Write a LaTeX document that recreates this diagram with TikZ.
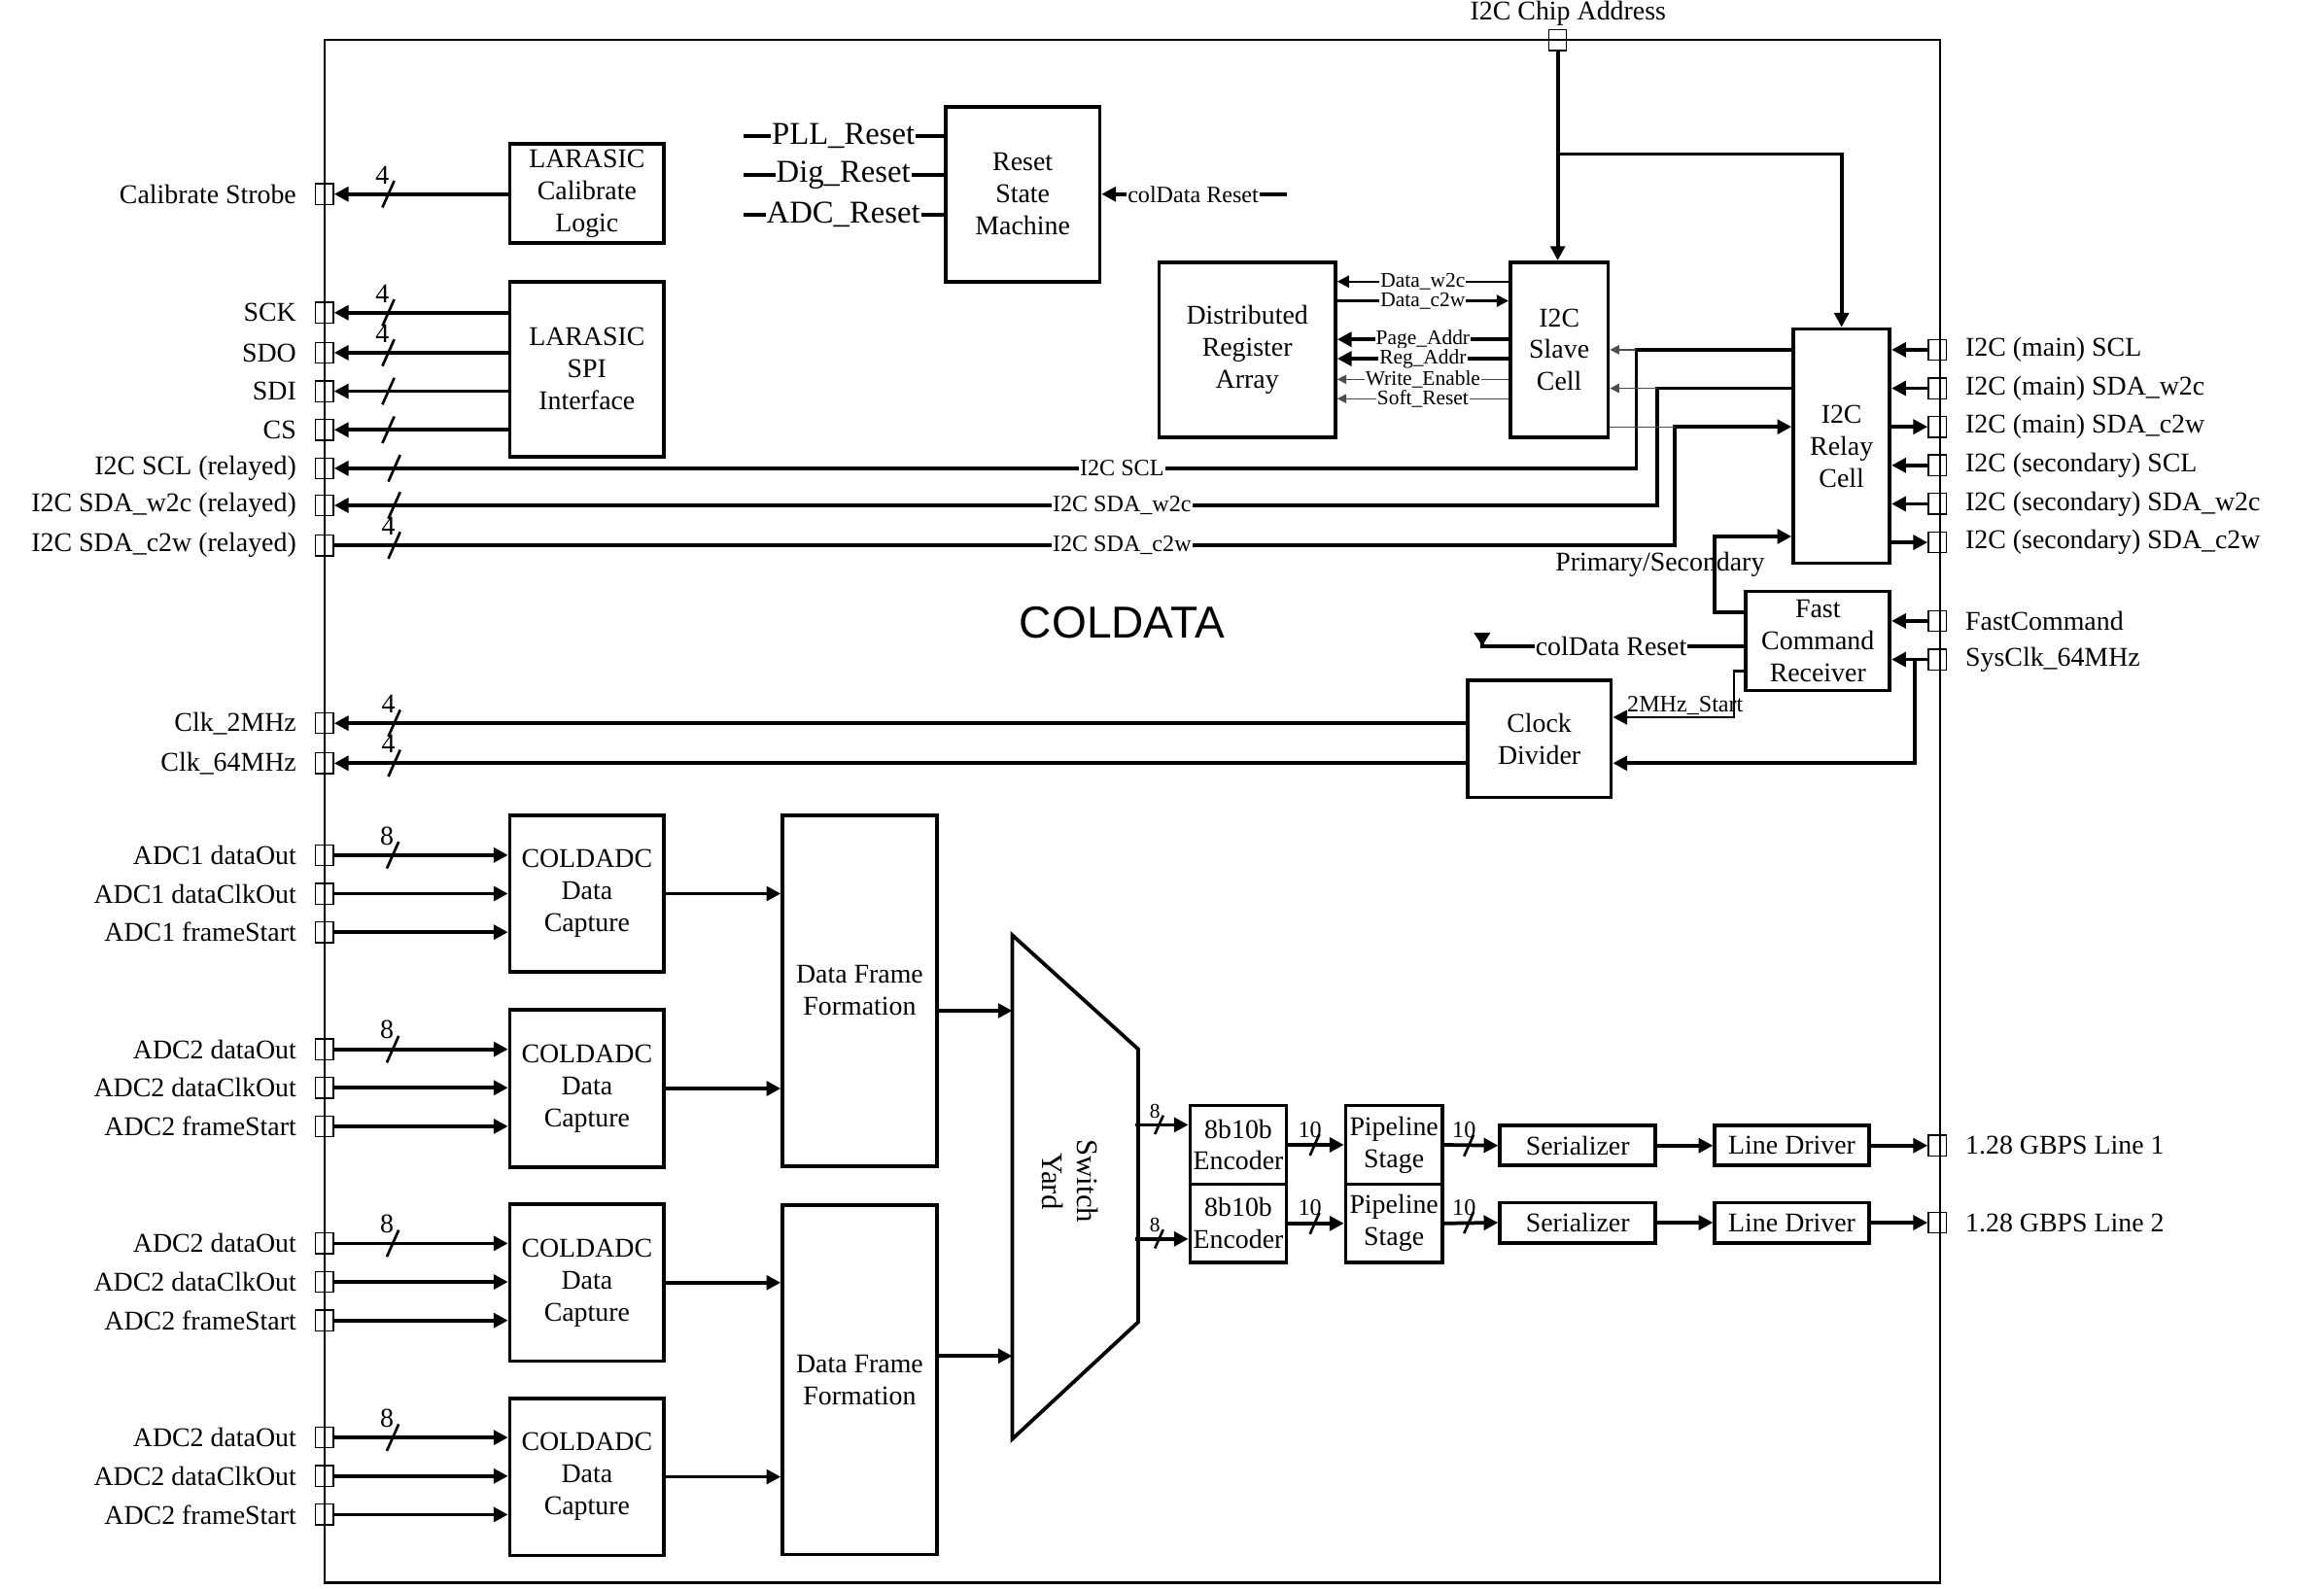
\documentclass[tikz,border=0pt]{standalone}
\usepackage{fontspec}
\setmainfont{Liberation Serif}
\newfontfamily\sansf{Liberation Sans}
\usetikzlibrary{arrows.meta}
\newcommand\smallf{\fontsize{8}{9}\selectfont}
\newcommand\midf{\fontsize{9}{10.5}\selectfont}
\newcommand\bigf{\fontsize{12.2}{14}\selectfont}

\begin{document}
\begin{tikzpicture}[x=0.02cm,y=-0.02cm,font=\fontsize{10.4}{12.3}\selectfont,
    >={Triangle[length=5.5pt,width=5.5pt]},
    blk/.style 2 args={draw,line width=1.4pt,align=center,inner sep=0pt,
      minimum width=#1*0.02cm,minimum height=#2*0.02cm},
    iopad/.style={draw,line width=.5pt,inner sep=0pt,minimum width=.24cm,minimum height=.28cm},
    wire/.style={line width=1.4pt},
    mwire/.style={line width=.9pt,>={Triangle[length=4.5pt,width=4.5pt]}},
    fwire/.style={line width=.5pt,draw=black!70,>={Triangle[length=3.5pt,width=3.5pt]}},
    onwire/.style={fill=white,inner sep=.4pt},
    pics/bus/.style={code={\draw[line width=1pt] (-4,9) -- (4,-9); \node (-n) at (-4,-13) {#1};}}]
  \useasboundingbox (0,0) rectangle (1568,1072);
  \draw[line width=.9pt] (219,27) rectangle (1309,1068);
  \node[font=\sansf\fontsize{17.2}{20}\selectfont] (title) at (757,420) {COLDATA};

  % blocks
  \node[blk={104}{67}] (cal) at (396,130.5) {LARASIC\\Calibrate\\Logic};
  \node[blk={104}{118}] (spi) at (396,249) {LARASIC\\SPI\\Interface};
  \node[blk={104}{118}] (rsm) at (690,131) {Reset\\State\\Machine};
  \node[blk={119}{118}] (dra) at (841.5,236) {Distributed\\Register\\Array};
  \node[blk={66}{118}] (slave) at (1052,236) {I2C\\Slave\\Cell};
  \node[blk={65}{158}] (relay) at (1242.5,301) {I2C\\Relay\\Cell};
  \node[blk={97}{67}] (fcr) at (1226.5,432.5) {Fast\\Command\\Receiver};
  \node[blk={97}{79}] (cd) at (1038.5,498.5) {Clock\\Divider};
  \node[blk={104}{106}] (dc1) at (396,603) {COLDADC\\Data\\Capture};
  \node[blk={104}{106}] (dc2) at (396,734.5) {COLDADC\\Data\\Capture};
  \node[blk={104}{106}] (dc3) at (396,865.5) {COLDADC\\Data\\Capture};
  \node[blk={104}{106}] (dc4) at (396,996.5) {COLDADC\\Data\\Capture};
  \node[blk={104}{237}] (dff1) at (580,668.5) {Data Frame\\Formation};
  \node[blk={104}{236}] (dff2) at (580,931) {Data Frame\\Formation};
  \node[blk={65}{53}] (enc1) at (835.5,772.5) {8b10b\\Encoder};
  \node[blk={65}{53}] (enc2) at (835.5,825.5) {8b10b\\Encoder};
  \node[blk={65}{53}] (ps1) at (940.5,772.5) {Pipeline\\Stage};
  \node[blk={65}{53}] (ps2) at (940.5,825.5) {Pipeline\\Stage};
  \node[blk={105}{27}] (ser1) at (1064.5,773) {Serializer};
  \node[blk={105}{27}] (ser2) at (1064.5,825) {Serializer};
  \node[blk={104}{27}] (ld1) at (1209,773) {Line Driver};
  \node[blk={104}{27}] (ld2) at (1209,825) {Line Driver};

  % pads
  \foreach \n/\y/\t in {pcal/131/Calibrate Strobe, psck/211/SCK, psdo/238/SDO,
      psdi/264/SDI, pcs/290/CS, pscl/316/I2C SCL (relayed),
      pw2c/341/I2C SDA\_w2c (relayed), pc2w/368/I2C SDA\_c2w (relayed),
      pck2/488/Clk\_2MHz, pck64/515/Clk\_64MHz,
      pa1d/577/ADC1 dataOut, pa1c/603/ADC1 dataClkOut, pa1f/629/ADC1 frameStart,
      pa2d/708/ADC2 dataOut, pa2c/734/ADC2 dataClkOut, pa2f/760/ADC2 frameStart,
      pa3d/839/ADC2 dataOut, pa3c/865/ADC2 dataClkOut, pa3f/891/ADC2 frameStart,
      pa4d/970/ADC2 dataOut, pa4c/996/ADC2 dataClkOut, pa4f/1022/ADC2 frameStart}
  {
    \node[iopad] (\n) at (219,\y) {};
    \node[anchor=east,inner sep=1pt] (\n-t) at (202,\y) {\t};
  }
  \foreach \n/\y/\t in {prscl/236/I2C (main) SCL, prw2c/262/I2C (main) SDA\_w2c,
      prc2w/288/I2C (main) SDA\_c2w, psscl/314/I2C (secondary) SCL,
      psw2c/340/I2C (secondary) SDA\_w2c, psc2w/366/I2C (secondary) SDA\_c2w,
      pfc/419/FastCommand, psys/445/SysClk\_64MHz,
      pl1/773/1.28 GBPS Line 1, pl2/825/1.28 GBPS Line 2}
  {
    \node[iopad] (\n) at (1307,\y) {};
    \node[anchor=west,inner sep=1pt] (\n-t) at (1324,\y) {\t};
  }
  \node[iopad] (pchip) at (1051,27) {};
  \node[inner sep=1pt] (pchip-t) at (1058,9) {I2C Chip Address};

  % larasic
  \draw[wire,<-] (pcal) -- (pcal -| cal.west);
  \foreach \p in {psck,psdo,psdi,pcs} \draw[wire,<-] (\p) -- (\p -| spi.west);
  \pic (bcal) at (262,131) {bus=4};
  \pic (bsck) at (262,211) {bus=4};
  \pic (bsdo) at (262,238) {bus=4};
  \pic (bsdi) at (262,264) {bus=};
  \pic (bcs) at (262,290) {bus=};

  % relayed i2c
  \coordinate (jscl) at (1104,236);
  \coordinate (jw2c) at (1118,262);
  \coordinate (jc2w) at (1130,288);
  \draw[wire,<-] (pscl) -| (jscl) -- (jscl -| relay.west);
  \draw[wire,<-] (pw2c) -| (jw2c) -- (jw2c -| relay.west);
  \draw[wire,->] (pc2w) -| (jc2w) -- (jc2w -| relay.west);
  \draw[fwire,->] (jscl) -- (jscl -| slave.east);
  \draw[fwire,->] (jw2c) -- (jw2c -| slave.east);
  \draw[fwire] (jc2w -| slave.east) -- (jc2w);
  \node[onwire,font=\midf] (lscl) at (757,316) {I2C SCL};
  \node[onwire,font=\midf] (lw2c) at (757,341) {I2C SDA\_w2c};
  \node[onwire,font=\midf] (lc2w) at (757,368) {I2C SDA\_c2w};
  \pic (bscl) at (266,316) {bus=};
  \pic (bw2c) at (266,341) {bus=};
  \pic (bc2w) at (266,368) {bus=4};

  % chip address
  \coordinate (jchip) at (1051,104);
  \draw[wire,->] (pchip) -- (pchip |- slave.north);
  \draw[wire,->] (jchip) -| (relay.north);
  \foreach \p in {prscl,prw2c,psscl,psw2c} \draw[wire,->] (\p) -- (\p -| relay.east);
  \foreach \p in {prc2w,psc2w} \draw[wire,<-] (\p) -- (\p -| relay.east);

  % fast command, clocks
  \draw[wire,->] (pfc) -- (pfc -| fcr.east);
  \draw[wire,->] (psys) -- (psys -| fcr.east);
  \coordinate (jsys) at (1292,445);
  \draw[wire,->] (jsys) |- (cd.east |- pck64);
  \coordinate (jps) at (1157,413);
  \coordinate (jps2) at (1157,362);
  \draw[wire,->] (fcr.west |- jps) -- (jps) -- (jps2) -- (jps2 -| relay.west);
  \node (lps) at (1120,381) {Primary/Secondary};
  \coordinate (j2m) at (1170,453);
  \coordinate (j2m2) at (1170,484);
  \draw[line width=1pt,->] (fcr.west |- j2m) -- (j2m) -- (j2m2) -- (j2m2 -| cd.east);
  \node[font=\midf] (l2m) at (1137,476) {2MHz\_Start};
  \coordinate (jrst) at (1000,436);
  \coordinate (rstend) at (1000,427);
  \draw[wire,{Triangle[reversed,length=5pt,width=6pt]}-] (rstend) -- (jrst) -- (jrst -| fcr.west);
  \node[onwire] (lrst) at (1087,436) {colData Reset};
  \draw[wire,<-] (pck2) -- (pck2 -| cd.west);
  \draw[wire,<-] (pck64) -- (pck64 -| cd.west);
  \pic (bck2) at (266,488) {bus=4};
  \pic (bck64) at (266,515) {bus=4};

  % reset state machine
  \coordinate (pllin) at (502,92);
  \coordinate (digin) at (502,118);
  \coordinate (adcin) at (502,145);
  \coordinate (rstin) at (868,131);
  \foreach \c in {pllin,digin,adcin} \draw[wire] (\c) -- (\c -| rsm.west);
  \node[onwire,font=\bigf] (lpll) at (569,92) {PLL\_Reset};
  \node[onwire,font=\bigf] (ldig) at (569,118) {Dig\_Reset};
  \node[onwire,font=\bigf] (ladc) at (569,145) {ADC\_Reset};
  \draw[wire,->] (rstin) -- (rstin -| rsm.east);
  \node[onwire,font=\midf] (lrsm) at (805,131) {colData Reset};

  % register array
  \draw[mwire,<-] (dra.east |- 0,190) -- (slave.west |- 0,190) node[midway,onwire,font=\smallf] (ldw) {Data\_w2c};
  \draw[mwire,->] (dra.east |- 0,203) -- (slave.west |- 0,203) node[midway,onwire,font=\smallf] (ldc) {Data\_c2w};
  \draw[wire,<-] (dra.east |- 0,229) -- (slave.west |- 0,229) node[midway,onwire,font=\smallf] (lpa) {Page\_Addr};
  \draw[wire,<-] (dra.east |- 0,242) -- (slave.west |- 0,242) node[midway,onwire,font=\smallf] (lra) {Reg\_Addr};
  \draw[fwire,<-] (dra.east |- 0,256) -- (slave.west |- 0,256) node[midway,onwire,font=\smallf] (lwe) {Write\_Enable};
  \draw[fwire,<-] (dra.east |- 0,269) -- (slave.west |- 0,269) node[midway,onwire,font=\smallf] (lsr) {Soft\_Reset};

  % adc data capture
  \foreach \a/\b in {pa1d/dc1,pa1c/dc1,pa1f/dc1,pa2d/dc2,pa2c/dc2,pa2f/dc2,
      pa3d/dc3,pa3c/dc3,pa3f/dc3,pa4d/dc4,pa4c/dc4,pa4f/dc4}
    \draw[wire,->] (\a) -- (\a -| \b.west);
  \foreach \k/\y in {1/577,2/708,3/839,4/970} \pic (bad\k) at (265,\y) {bus=8};
  \draw[wire,->] (dc1.east) -- (dc1.east -| dff1.west);
  \draw[wire,->] (dc2.east) -- (dc2.east -| dff1.west);
  \draw[wire,->] (dc3.east) -- (dc3.east -| dff2.west);
  \draw[wire,->] (dc4.east) -- (dc4.east -| dff2.west);

  % switch yard
  \coordinate (sya) at (683,631);
  \coordinate (syb) at (768,708);
  \coordinate (syc) at (768,892);
  \coordinate (syd) at (683,971);
  \draw[line width=1.4pt] (sya) -- (syb) -- (syc) -- (syd) -- cycle;
  \node[rotate=-90,align=center,font=\fontsize{11.5}{13.5}\selectfont] (sy) at (722,797) {Switch\\Yard};
  \coordinate (syin1) at (683,682);
  \coordinate (syin2) at (683,915);
  \coordinate (syout1) at (766,759);
  \coordinate (syout2) at (766,836);
  \draw[wire,->] (dff1.east |- syin1) -- (syin1);
  \draw[wire,->] (dff2.east |- syin2) -- (syin2);
  \draw[wire,->] (syout1) -- (syout1 -| enc1.west);
  \draw[wire,->] (syout2) -- (syout2 -| enc2.west);
  \pic[scale=.7,font=\smallf] (bsy1) at (782,759) {bus=8};
  \pic[scale=.7,font=\smallf] (bsy2) at (782,836) {bus=8};

  % serial links
  \draw[wire,->] (enc1.east) -- (ps1.west);
  \draw[wire,->] (enc2.east) -- (ps2.west);
  \draw[wire,->] (ps1.east) -- (ser1.west);
  \draw[wire,->] (ps2.east) -- (ser2.west);
  \draw[wire,->] (ser1) -- (ld1);
  \draw[wire,->] (ser2) -- (ld2);
  \draw[wire,->] (ld1) -- (pl1);
  \draw[wire,->] (ld2) -- (pl2);
  \pic[scale=.8,font=\midf] (be1) at (887,772.5) {bus=10};
  \pic[scale=.8,font=\midf] (be2) at (887,825.5) {bus=10};
  \pic[scale=.8,font=\midf] (bp1) at (991,773) {bus=10};
  \pic[scale=.8,font=\midf] (bp2) at (991,825) {bus=10};
\end{tikzpicture}
\end{document}
